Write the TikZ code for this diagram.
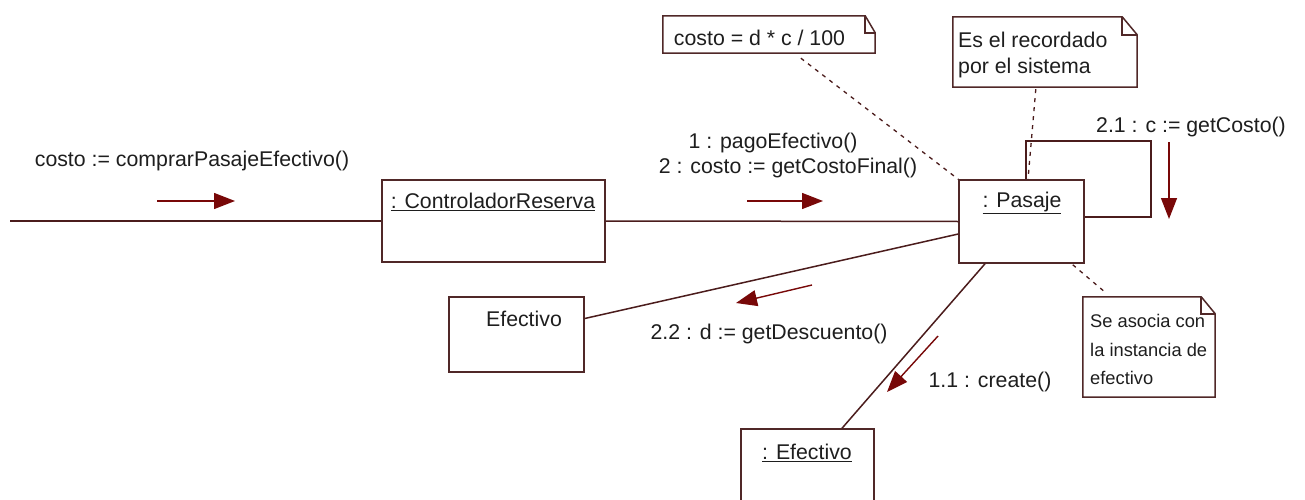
\documentclass[tikz,border=0pt]{standalone}
\usepackage{fontspec}
\setmainfont{Liberation Sans}
\usetikzlibrary{arrows.meta,calc}
\definecolor{boxc}{RGB}{80,40,40}
\definecolor{linec}{RGB}{75,28,28}
\definecolor{arrc}{RGB}{120,8,8}
\definecolor{txtc}{RGB}{30,30,30}
\newcommand\mynote[3]{%
  \draw[noteline] (#1.north west) -- ($(#1.north east)+(-#2,0)$) -- ($(#1.north east)+(0,#3)$) -- (#1.south east) -- (#1.south west) -- cycle;
  \draw[noteline, fill=none] ($(#1.north east)+(-#2,0)$) -- ($(#1.north east)+(-#2,#3)$) -- ($(#1.north east)+(0,#3)$);}
\begin{document}
\begin{tikzpicture}[x=1pt,y=-1pt,
  objbox/.style={draw=boxc, line width=1.5pt, fill=white, inner sep=0pt},
  lbl/.style={text=txtc, font=\fontsize{21.3}{26}\selectfont, inner sep=0pt},
  link/.style={draw=linec, line width=1.5pt},
  notebox/.style={draw=none, inner sep=0pt},
  noteline/.style={draw=boxc, line width=1.5pt, fill=white, line join=miter},
  dashlink/.style={draw=linec, line width=1.3pt, dash pattern=on 4pt off 5pt},
  msg/.style={draw=arrc, line width=1.4pt, -{Triangle[length=21pt,width=16pt]}},
]
\fill[white] (0,0) rectangle (1305,500);
\path[use as bounding box] (0,0) rectangle (1305,500);
\clip (0,0) rectangle (1305,500);

% object boxes
\node[objbox, minimum width=223pt, minimum height=82pt] (ctrl) at (493.5,221) {};
\node[objbox, minimum width=125pt, minimum height=83pt] (pasaje) at (1021.5,221.5) {};
\node[objbox, minimum width=135pt, minimum height=75pt] (efe) at (516.5,334.5) {};
\node[objbox, minimum width=133pt, minimum height=91pt] (efe2) at (807.5,474.5) {};

\node[lbl] (ctrlt) at (493,202) {\underline{: ControladorReserva}};
\node[lbl] (pasajet) at (1022,203) {\underline{: Pasaje}};
\node[lbl] (efet) at (524,319) {Efectivo};
\node[lbl] (efe2t) at (807,453) {\underline{: Efectivo}};

% notes
\node[notebox, minimum width=212pt, minimum height=37pt] (n1) at (769,34.5) {};
\node[notebox, minimum width=184pt, minimum height=70pt] (n2) at (1045,52) {};
\node[notebox, minimum width=132pt, minimum height=100pt] (n3) at (1149,347) {};
\mynote{n1}{10}{17}
\mynote{n2}{15}{18}
\mynote{n3}{14}{17}
\node[lbl] (n1t) at (759.5,38) {costo = d * c / 100};
\node[lbl, anchor=west, align=left, font=\fontsize{21.3}{26}\selectfont] (n2t) at (958,55) {Es el recordado\\por el sistema};
\node[lbl, anchor=west, align=left, font=\fontsize{18.3}{28.5}\selectfont] (n3t) at (1090,349.5) {Se asocia con\\la instancia de\\efectivo};

% links
\coordinate (start) at (10,221);
\draw[link] (start) -- (ctrl.west);
\draw[link] (ctrl.east) -- (pasaje.west);
\draw[link] ($(efe.east)+(0,-16)$) -- ($(pasaje.west)+(0,12.5)$);
\draw[link] ($(efe2.north)+(34.5,0)$) -- ($(pasaje.south)+(-36.5,0)$);
\coordinate (loopTR) at (1151,141);
\draw[link] ($(pasaje.north)+(4.5,0)$) |- (loopTR) |- ($(pasaje.east)+(0,-4.5)$);

% dashed note anchors
\draw[dashlink] ($(n1.south west)!0.65!(n1.south east)+(0,5)$) -- (pasaje.north west);
\draw[dashlink] ($(n2.south west)!0.45!(n2.south east)+(0,2)$) -- ($(pasaje.north)+(6.5,0)$);
\draw[dashlink] ($(pasaje.south east)+(-12,1)$) -- ($(n3.north west)+(23,-4)$);

% message labels
\node[lbl] (l0) at (192,161) {costo := comprarPasajeEfectivo()};
\node[lbl] (l1) at (773,143) {1 : pagoEfectivo()};
\node[lbl] (l2) at (788,168) {2 : costo := getCostoFinal()};
\node[lbl] (l21) at (1191,127) {2.1 : c := getCosto()};
\node[lbl] (l22) at (769,334) {2.2 : d := getDescuento()};
\node[lbl] (l11) at (990,382) {1.1 : create()};

% message arrows
\coordinate (m0a) at (157,201); \coordinate (m0b) at (235,201);
\coordinate (m1a) at (747,201); \coordinate (m1b) at (823,201);
\coordinate (m21a) at (1169,142); \coordinate (m21b) at (1169,219);
\coordinate (m22a) at (812,285); \coordinate (m22b) at (736,303);
\coordinate (m11a) at (938,336); \coordinate (m11b) at (887,392);
\draw[msg] (m0a) -- (m0b);
\draw[msg] (m1a) -- (m1b);
\draw[msg] (m21a) -- (m21b);
\draw[msg] (m22a) -- (m22b);
\draw[msg] (m11a) -- (m11b);
\end{tikzpicture}
\end{document}
